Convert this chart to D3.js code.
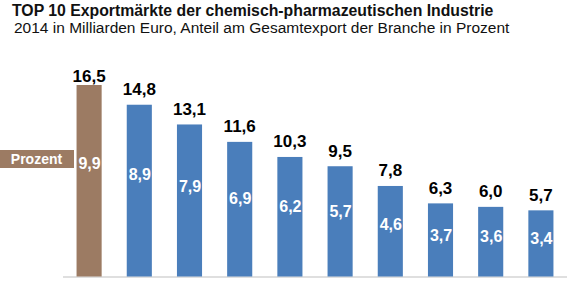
<!DOCTYPE html>
<html><head><meta charset="utf-8">
<script src="https://cdn.jsdelivr.net/npm/d3@7"></script>
<style>body{margin:0;background:#fff}svg{display:block}text{font-family:"Liberation Sans",Arial,sans-serif}</style>
</head><body><div id="chart"></div>
<script>
const categories = ["1","2","3","4","5","6","7","8","9","10"];
const exportValues = [16.5,14.8,13.1,11.6,10.3,9.5,7.8,6.3,6.0,5.7];
const shareValues = [9.9,8.9,7.9,6.9,6.2,5.7,4.6,3.7,3.6,3.4];
const title = "TOP 10 Exportmärkte der chemisch-pharmazeutischen Industrie";
const subtitle = "2014 in Milliarden Euro, Anteil am Gesamtexport der Branche in Prozent";
const legendLabel = "Prozent";

const W = 583, H = 281;
const fmt = v => d3.format(".1f")(v).replace(".", ",");
const svg = d3.select("#chart").append("svg").attr("width", W).attr("height", H);

const x = d3.scaleBand().domain(categories).range([64, 566]).paddingInner(0.5).paddingOuter(0.25);
const y = d3.scaleLinear().domain([0, 16.5]).range([276.5, 85]);

svg.append("text").attr("x", 12).attr("y", 15.5).attr("font-size", 15.8).attr("font-weight", "bold").attr("fill", "#111").text(title);
svg.append("text").attr("x", 14).attr("y", 33).attr("font-size", 15.5).attr("fill", "#111").text(subtitle);

// baseline axis
svg.append("line").attr("x1", 63).attr("x2", 567).attr("y1", 277).attr("y2", 277).attr("stroke", "#d4d4d4").attr("stroke-width", 1.5);

const colorFor = i => i === 0 ? "#9c7b63" : "#4a7ebb";

svg.selectAll("rect.bar").data(exportValues).join("rect").attr("class", "bar")
  .attr("x", (d, i) => x(categories[i])).attr("width", x.bandwidth())
  .attr("y", d => y(d)).attr("height", d => y(0) - y(d))
  .attr("fill", (d, i) => colorFor(i));

svg.selectAll("text.val").data(exportValues).join("text").attr("class", "val")
  .attr("x", (d, i) => x(categories[i]) + x.bandwidth() / 2)
  .attr("y", d => Math.max(y(d) - 9.5, 82))
  .attr("text-anchor", "middle").attr("font-size", 17).attr("font-weight", "bold").attr("fill", "#000")
  .text(fmt);

svg.selectAll("text.share").data(shareValues).join("text").attr("class", "share")
  .attr("x", (d, i) => x(categories[i]) + x.bandwidth() / 2 + 0.5)
  .attr("y", d => y(d) + 1.5)
  .attr("dy", "0.35em")
  .attr("text-anchor", "middle").attr("font-size", 16).attr("font-weight", "bold").attr("fill", "#fff")
  .text(fmt);

// legend label box
const lg = svg.append("g");
lg.append("rect").attr("x", 0).attr("y", 150).attr("width", 74).attr("height", 18).attr("fill", "#9c7b63");
lg.append("text").attr("x", 36.5).attr("y", 159).attr("dy", "0.35em").attr("text-anchor", "middle")
  .attr("font-size", 14).attr("font-weight", "bold").attr("fill", "#fff").text(legendLabel);
</script></body></html>
